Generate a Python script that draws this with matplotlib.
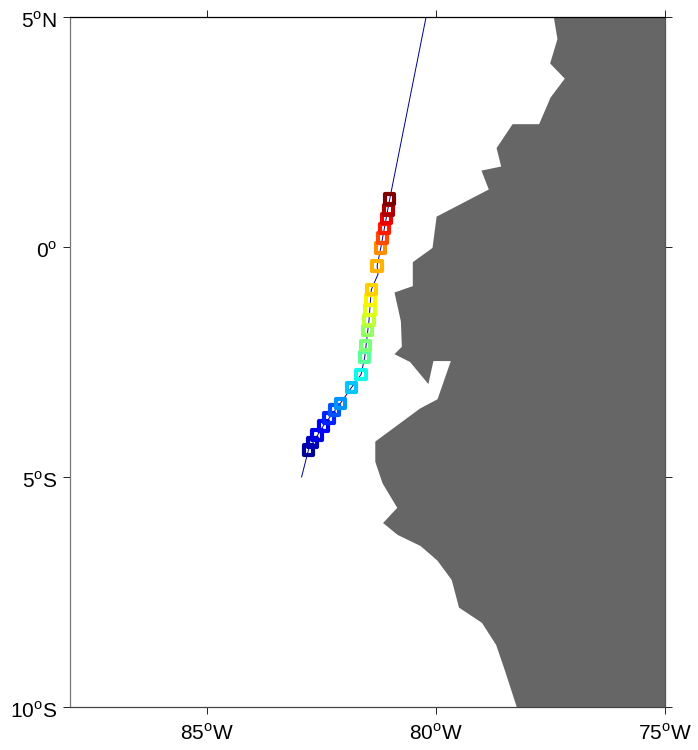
import numpy as np
import matplotlib
matplotlib.use('Agg')
import matplotlib.pyplot as plt
from matplotlib.transforms import ScaledTranslation

plt.rcParams['font.family'] = ['Liberation Sans']
plt.rcParams['mathtext.fontset'] = 'custom'
plt.rcParams['mathtext.rm'] = 'Liberation Sans'

# coast outline, north to south
coast_lon = [-77.43, -77.35, -77.51, -77.19, -77.50, -77.75, -78.33, -78.68, -78.58, -79.01,
             -78.85, -79.99, -80.08, -80.51, -80.51, -80.91, -80.77, -80.75, -80.91, -80.57,
             -80.17, -80.06, -79.68, -79.97, -80.35, -80.99, -81.33, -81.33, -81.17, -80.85,
             -81.16, -80.84, -80.34, -79.97, -79.66, -79.50, -79.00, -78.69, -78.50, -78.24,
             -75.0, -75.0]
coast_lat = [5.0, 4.52, 3.99, 3.66, 3.25, 2.67, 2.67, 2.15, 1.75, 1.66,
             1.25, 0.66, -0.02, -0.33, -0.85, -0.99, -1.62, -2.17, -2.33, -2.50,
             -2.98, -2.48, -2.48, -3.31, -3.51, -3.98, -4.23, -4.67, -5.14, -5.67,
             -6.00, -6.26, -6.50, -6.82, -7.24, -7.84, -8.17, -8.65, -9.20, -10.0,
             -10.0, 5.0]

# ship track
track_lon = [-80.22, -81.015, -81.21, -81.29, -81.27, -81.417, -81.467, -81.56, -81.64, -81.854,
             -82.094, -82.466, -82.79, -82.94]
track_lat = [5.0, 1.04, -0.02, -0.41, -0.59, -0.93, -1.59, -2.39, -2.77, -3.06,
             -3.40, -3.89, -4.41, -5.0]

# stations, south to north
sta_lon = [-82.79, -82.70, -82.60, -82.466, -82.34, -82.225, -82.094, -81.854, -81.64, -81.56, -81.54,
           -81.505, -81.467, -81.445, -81.44, -81.417, -81.29, -81.21, -81.168, -81.124, -81.08, -81.046, -81.015]
sta_lat = [-4.41, -4.25, -4.09, -3.89, -3.72, -3.54, -3.40, -3.06, -2.77, -2.39, -2.14,
           -1.82, -1.59, -1.37, -1.15, -0.93, -0.41, -0.02, 0.20, 0.40, 0.615, 0.80, 1.04]
sta_val = [0.02, 0.05, 0.09, 0.12, 0.16, 0.21, 0.27, 0.32, 0.37, 0.46, 0.50,
           0.53, 0.58, 0.62, 0.65, 0.69, 0.72, 0.76, 0.83, 0.88, 0.91, 0.96, 1.0]

x_ticks = [-85, -80, -75]
x_labels = ['85$^{\\mathrm{o}}$W', '80$^{\\mathrm{o}}$W', '75$^{\\mathrm{o}}$W']
y_ticks = [5, 0, -5, -10]
y_labels = ['5$^{\\mathrm{o}}$N', '0$^{\\mathrm{o}}$', '5$^{\\mathrm{o}}$S', '10$^{\\mathrm{o}}$S']

W, H = 698, 750
fig = plt.figure(figsize=(W / 100, H / 100), dpi=100)
ax = fig.add_axes([70 / W, 1 - 707 / H, 595 / W, 690 / H])

ax.fill(coast_lon, coast_lat, color='#666666', lw=0, zorder=1)
ax.plot(track_lon, track_lat, color='#00008b', lw=0.7, zorder=2)
ax.scatter(sta_lon, sta_lat, s=46, marker='s', facecolors='none',
           edgecolors=plt.cm.jet(np.array(sta_val)), linewidths=3.0, joinstyle='round', zorder=3)

ax.set_xlim(-88, -75)
ax.set_ylim(-10, 5)
ax.set_xticks(x_ticks)
ax.set_xticklabels(x_labels)
ax.set_yticks(y_ticks)
ax.set_yticklabels(y_labels)
ax.tick_params(direction='out', length=5, width=0.7, color='#222222', labelsize=15,
               top=True, right=True, pad=4)
ax.tick_params(axis='x', pad=6.5)

# labels sit a little below the tick marks
shift = ScaledTranslation(0, -2.5 / 100, fig.dpi_scale_trans)
for lab in ax.get_yticklabels():
    lab.set_transform(lab.get_transform() + shift)

ax.spines['top'].set_color('black')
ax.spines['left'].set_color('#777777')
ax.spines['bottom'].set_color('#444444')
ax.spines['right'].set_color('#555555')
for s in ax.spines.values():
    s.set_linewidth(0.9)

fig.savefig('out.png', dpi=100)
plt.close()
